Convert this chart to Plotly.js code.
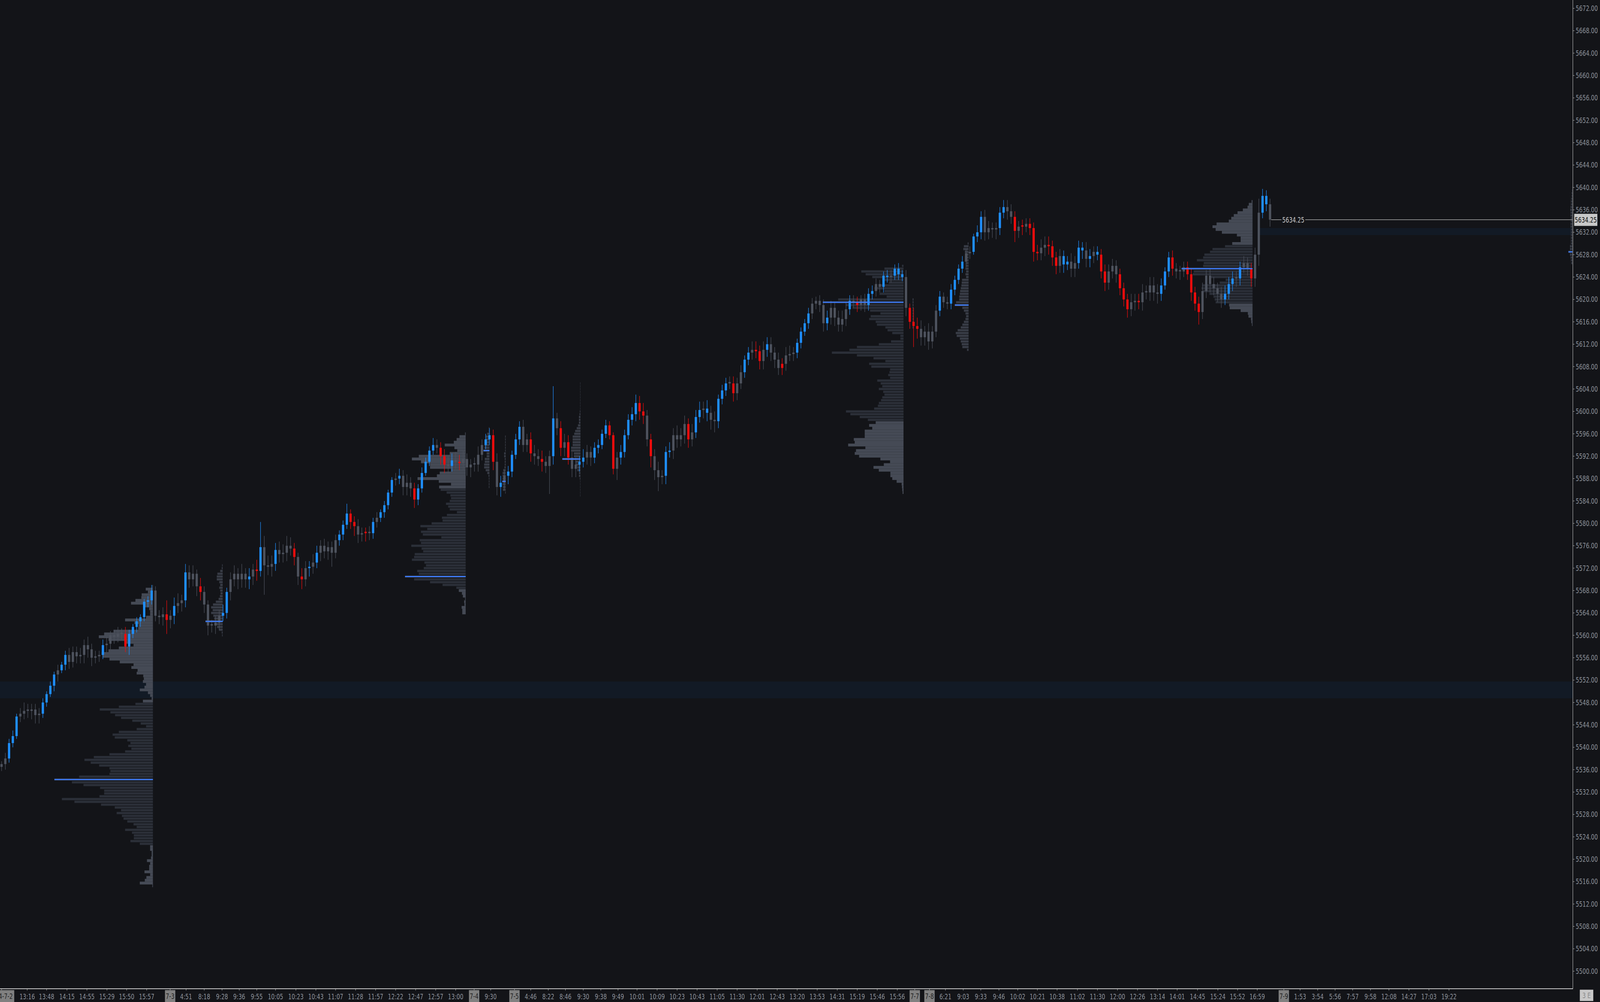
<!DOCTYPE html>
<html>
<head>
<meta charset="utf-8">
<script src="https://cdn.plot.ly/plotly-3.0.1.min.js"></script>
<style>
html,body{margin:0;padding:0;background:#131418;overflow:hidden;width:100%;height:100%;}
#wrap{position:fixed;left:0;top:0;width:100vw;height:100vh;overflow:hidden;background:#131418;}
#chart{position:absolute;left:0;top:0;width:5116px;height:2566px;transform-origin:0 0;}
</style>
</head>
<body>
<div id="wrap"><div id="chart"></div></div>
<script>
// ---------------- DATA ----------------
// Candles: one candle = 3 chart bars
const firstOpen = 5536.5;
const closes = [
5537,5538,5540.75,5542,5545.5,5546,5546.5,5546.5,5546.75,5545.75,
5546,5548,5549.5,5551,5553,5553.75,5554.75,5556.5,5555.25,5557,
5556.25,5556.5,5558.25,5557.5,5556,5556.25,5556.5,5558.25,5558.5,5560,
5559.75,5560.25,5560.25,5558,5560.25,5561.5,5562.5,5563.25,5566,5566.25,
5568,5563.5,5563.25,5563.75,5562.75,5563.5,5565.25,5565.75,5566.25,5571.25,
5570,5571,5568.75,5567.75,5565.5,5561.75,5561.75,5562.25,5563.5,5564,
5567.75,5570,5571,5570,5571,5570,5570.5,5571.75,5571.5,5575.75,
5572.5,5572.25,5572.75,5575.25,5574.5,5574.75,5576,5575.5,5574,5570.5,
5570,5572,5572.25,5573,5574.75,5576,5575,5575.75,5574.75,5577,
5578,5579.75,5581.75,5580.25,5579.5,5578,5578.25,5578.25,5578.25,5580.25,
5581,5582,5583.25,5585.5,5587.75,5588,5588.5,5586.5,5587.25,5586.25,
5584.25,5586.25,5589,5591,5593,5594,5593.5,5592,5590.5,5590.25,
5591.25,5591,5590.75,5591.5,5590,5590.5,5590.5,5592.25,5594,5595,
5595.75,5591,5586.5,5587.25,5588.5,5589.25,5592.25,5595,5597.25,5594,
5595,5592.5,5592,5591.5,5591,5590.25,5592,5598.75,5597,5593.5,
5594.5,5591.75,5589.75,5590.5,5591,5591.75,5592.75,5591.75,5593.5,5594,
5596,5597.5,5595.75,5589.75,5591.75,5592.75,5595.75,5598.5,5599.5,5601.5,
5600,5599.25,5595,5592,5589.5,5588.25,5588.5,5592.75,5593,5595.75,
5595,5595.75,5597.75,5595,5596.25,5599,5600.25,5600.5,5599.75,5598.5,
5598.25,5602.25,5603.75,5605,5605,5603.25,5605,5607,5609.25,5610.5,
5611,5610.75,5609,5611,5612,5610.5,5609.25,5607.75,5608.5,5610,
5610.25,5610.5,5612.25,5614.25,5615.75,5617.5,5619.25,5619.75,5619,5615.75,
5616.75,5618.5,5616.75,5615.5,5616.5,5618.25,5619.75,5619.5,5619,5620,
5619,5621,5621.5,5622.75,5622.25,5624.25,5624,5624.25,5625.5,5624.5,
5624,5618.5,5616,5615.25,5614.75,5613.25,5614.25,5612.5,5614.25,5618,
5620.5,5619.5,5619.25,5621.75,5623.5,5625.5,5626.75,5628.25,5628.5,5631.25,
5632,5634.75,5632,5632.75,5632.5,5632.75,5635.5,5636.5,5635.75,5634.75,
5632.25,5633,5633,5633.5,5632.75,5628.5,5628.25,5629.25,5629.75,5629.5,
5627.5,5626,5627.75,5626.25,5626.75,5625.5,5626.5,5629.25,5628.75,5627.25,
5627.75,5628.5,5628,5625,5623,5625,5626,5624.5,5622,5620,
5618.25,5619.5,5619.75,5619.5,5621.25,5621.25,5622.5,5621.25,5621,5622.5,
5625,5627.5,5625.5,5625,5625,5625.75,5624.5,5621.25,5619.25,5617.75,
5621.5,5624.25,5622.75,5622,5621,5620,5621,5622.75,5623.75,5623.75,
5625.75,5626.5,5625.5,5623.75,5628,5635.5,5638.5,5637,5634.25
];
const wickUp = [
0.5,1,0.75,1,0.5,1,1.5,1.25,1,1,
1,0.75,0.5,0.75,0.5,1,0.5,0.75,1.25,1,
1,1.25,1,1.5,1,1,0.75,1,1.25,0.75,
1,1.25,1,1.25,0.75,0.5,0.75,0.5,0.5,0.75,
1,0.75,1,1.25,2.5,1,1.5,1.75,1,1.5,
1.25,1.5,0.75,1.5,1,0.75,1,1.25,1,1.5,
0.75,1.25,1.5,1,1.75,1,1.5,1,1.75,4.5,
2,1.75,1.5,1.25,1.5,1.5,1.75,1.5,1,0.75,
1.5,1.25,1,1.5,1.25,1,1.25,1,1,1,
0.75,0.75,1.75,0.75,1,1.25,1,1,1.25,0.75,
1,0.5,0.75,0.5,0.5,1,1.25,1,1.5,1,
1,0.75,1,0.75,0.75,1.25,1,1,1.25,1.5,
1.25,1.5,1.25,1.5,1,1,1.25,1.5,1,1,
1.25,1,1.5,1.25,1,1,0.75,1,1,1.25,
1,1.25,1.5,1.25,1.5,1,1,5.75,1,1.25,
1.5,1.25,1,1.25,1,1.5,1.25,1,1,1,
0.75,1,0.75,0.5,1,1.25,1,1,1.25,1.5,
1.25,1.5,1,1,1.25,1.5,1,1,1.5,1.25,
1.75,1.25,1.5,1,1.5,1.25,1.5,1.25,1.5,1.25,
1.5,0.75,1,1,1.25,1.25,1,1.25,0.75,1,
1.5,1.5,1,1.5,1.25,1.25,1,1.25,1,1.5,
1.5,1,0.75,0.75,0.75,1,1,0.75,1,1,
1.25,1.25,1,1.25,1.5,1.25,1,1,1,0.75,
1,1,1,1,0.75,0.75,1,1,0.75,1,
0.75,1.25,0.75,2.5,1.5,1.5,1,1.5,1,1,
1,0.75,1,1,0.75,0.75,1,0.75,1,0.5,
1.25,1,1.25,1.25,1,1,1,1.25,1.25,1.25,
1,1,1.25,1,1,1,1.25,1.5,1.5,1.5,
1,1,1.25,1,1,1.5,1.25,1.25,1,1.5,
1.25,1,1,1,1.25,1.25,1.25,1,1,1,
1,1.5,1.25,1.25,1.5,1.25,1.5,1.5,1.5,1.25,
0.75,1,1.25,1,1,1,1,1,1,1.25,
1.5,1,1.25,1.25,1,1.25,1.5,1.25,1.25,1.25,
1,1.25,1,1,1.25,2.5,1.25,1,1
];
const wickDn = [
0.75,1,0.75,0.75,0.5,1,1,1.25,1.5,1.5,
1.5,0.75,0.75,0.5,1,1.25,0.5,1,1.25,1,
1.25,1.25,1.5,1.5,1.5,1,1,0.75,1.25,1,
1.25,1,1,1,1.5,0.75,1,1,0.75,1,
0.75,1,1.25,1.5,2.5,1.5,1.5,1.25,1.5,1.25,
1.5,1.25,1.75,1.5,1.5,1.75,1.25,1.5,1.25,1,
1,1.5,1.25,1.75,1.5,1.5,1.75,1.5,1.75,1,
5.25,1.5,1.75,1.25,1.5,1.5,1.5,1.25,1.5,1.5,
1.75,1.25,1.5,1.25,1,1.5,1.25,1.5,2.5,1,
1,1,0.75,1.25,1.75,1.5,1.25,1.5,1.25,1,
1,0.75,1,0.75,0.75,1,1,1.5,1.5,1.5,
1.5,1,0.75,0.5,0.75,0.75,1,1.5,1.5,1.25,
1,1.25,1.25,1.25,1.5,1.75,1.25,1.25,1,0.75,
1,1.5,1.5,1.75,1.25,1.5,1,0.75,1,1.25,
1.25,1.5,1.5,1.25,1.75,1.25,5,1.5,1.25,1.5,
1.5,1.25,1.5,1.5,1.25,1,1.25,1.5,1,1,
0.75,0.75,0.75,1,2,1.25,1,0.75,1,1.25,
1.5,1.5,1.25,2,1.75,2.5,1.25,1.5,1,1.5,
1.5,1.25,1.5,1.5,1.25,1,1,1.5,1.5,1.75,
2,1.25,1,1,1,1.5,1.25,1,1,1,
1.25,1.25,1.5,1.5,1.25,1.5,1.5,1.25,1.25,1.25,
1,1.25,1,1,0.75,1,1,1,1.25,1.5,
1.25,1.25,1.5,1.25,1.25,1.25,1,1,1.25,1,
1.25,1,1,1,1,1,1,1,0.75,1,
0.75,1.5,1.25,3.75,1.75,1.5,1.5,1.5,1.25,1,
1,1,1,1,1,0.75,0.75,1,1,0.5,
1,1.25,1.5,1.25,1.5,1.75,1.25,1,1.5,1.25,
2,1.25,1.5,1,1.25,1.75,1.25,1.25,1.5,1.5,
1.5,1.5,1.25,1.5,1,1.5,1.5,1,1.5,1.5,
1.5,1.25,1,1.25,1.5,1.25,1.25,1.5,1.25,1.25,
1.5,1.25,1.5,1.25,1.5,1.25,1.5,1.5,1.75,1.25,
0.75,1,1.25,1.25,1.5,1,1,1.5,1.25,2.25,
1.25,1.25,1.5,1.25,1.5,1.5,1,1,1.25,1.5,
1.25,1,1.25,1.5,1.5,2,1,1.25,1.25
];
// b = blue (trend up), r = red (trend down), g = neutral
const candleClass = (
"ggbbbggggg gbbbbgbbgg gggggggbgg gggrbbbbbb bgggrgbggb gggrgggggb bgggggbgrb gggbggggrg rgbgbggggg bbbrrggrgb " +
"gbbbbgbggg rbbbbbgrrg bgrggggggb brgbgbbbbg grggrggbgr grggbbggbb bbrrgbbbbb rrgrgggbbg gggrgbbgbg gbbbgrggbb " +
"grrgbgggrg ggbbbbgggg bgggggbgrg gbbggbbgbb bgrrrggggg bggbbbbggb bbggggbbgg rgrgrrrggr rrgbbggbbg bgbrrgggrr " +
"rggrgggggb bbrgggrrrr ggggggbbbg bggrggbbg").replace(/ /g, "");

// X-axis time labels (position in candle index units)
const tickPos = [6.83,12.0,17.42,22.75,28.08,33.33,38.67,
  49.17,54.0,58.75,63.33,68.0,73.0,78.42,83.75,89.0,94.33,99.67,105.0,110.33,115.67,121.0,
  130.33,
  141.0,145.67,150.25,155.0,159.67,164.25,169.33,174.67,180.0,185.33,190.67,196.0,201.33,206.67,212.0,217.33,222.67,228.0,233.33,238.67,
  251.5,256.25,260.92,265.75,270.75,276.0,281.25,286.67,292.0,297.33,302.67,308.0,313.25,318.67,324.08,329.33,334.58,
  346.0,350.67,355.33,360.0,364.75,369.67,375.0,380.33,385.67];
const tickLabels = ['13:16','13:48','14:15','14:55','15:29','15:50','15:57',
  '4:51','8:18','9:28','9:36','9:55','10:05','10:23','10:43','11:07','11:28','11:57','12:22','12:47','12:57','13:00',
  '9:30',
  '4:46','8:22','8:46','9:30','9:38','9:49','10:01','10:09','10:23','10:43','11:05','11:30','12:01','12:43','13:20','13:53','14:31','15:19','15:46','15:56',
  '6:21','9:03','9:33','9:46','10:02','10:21','10:38','11:02','11:30','12:00','12:26','13:14','14:01','14:45','15:24','15:52','16:59',
  '1:53','3:54','5:56','7:57','9:58','12:08','14:27','17:03','19:22'];
const datePos = [0, 44.92, 125.92, 136.67, 243.33, 247.25, 341.67];
const dateLabels = ['24-7-2', '7-3', '7-4', '7-5', '7-7', '7-8', '7-9'];

// Volume profiles: rows every 0.5 pt from the top price downward
const p1Vols = [2,23,16,36,37,56,70,26,12,9,9,22,89,59,46,47,126,156,173,142,89,62,109,142,164,161,139,106,62,69,49,52,31,29,32,22,27,42,16,9,4,32,
  56,109,170,136,121,102,66,39,22,52,109,129,122,82,72,79,69,89,139,189,219,199,172,139,136,139,236,315,259,222,169,156,156,171,291,251,166,122,102,116,99,94,82,62,52,89,67,61,61,72,42,
  9,9,4,4,6,19,9,12,12,27,9,21,26,42,2];
const paVols = [2,3,8,17,19,19,11,8,11,8,7,9,13,22,31,37,32,37,30,27,55,23,18,12,3,2];
const p2Vols = [2,20,29,38,67,36,27,51,150,172,143,114,114,47,83,92,154,86,47,85,
  80,61,49,47,51,63,56,51,28,60,76,74,109,145,123,143,137,78,147,143,174,141,136,163,165,172,132,127,134,155,150,194,165,114,74,30,
  22,12,9,2,5,4,13,11,11];
const pbVols = [2,2,7,11,11,16,16,16,19,9,9,15,15,17,17,12,7,3,2,2,2,2];
const pcVols = [2,2,2,2,2,2,5,5,3,3,3,4,8,10,10,10,11,10,9,9,2];
const pdVols = [1,1,1,1,1,1,1,1,1,1,2,3,5,5,5,8,12,17,20,25,25,25,25,30,30,21,21,58,16,16,10,10,5,5,2,1,1,1,1,1,1];
const p5Vols = [5,61,135,121,100,68,47,79,93,61,77,54,209,258,184,163,107,74,105,110,89,85,58,51,36,10,10,40,79,149,173,229,149,96,58,110,103,43,45,49,43,84,73,68,79,65,61,68,72,79,82,94,184,170,140,114,
  89,110,100,124,124,124,159,156,177,122,152,156,142,74,43,63,96,79,42,42,36,22,6,5,4,3];
const ptVols = [3,3,3,3,3,3,3,3,3,3,3];
const peVols = [3,15,17,12,8,6,7,8,8,10,8,10,8,21,22,23,25,27,28,30,30,40,44,20,15,10,8,10,15,20,25,35,41,38,28,25,22,20,5];
const p6Vols = [3,12,16,31,48,60,68,76,115,128,118,98,50,38,38,65,
  88,128,136,154,158,178,156,158,227,188,191,138,86,105,161,163,158,138,125,121,118,
  75,73,38,15,13,5,4,2];
const pfVols = [1,2,3,3,4,5,5,6,7,6,6,5,5,6,6,5,5,5,5,5,5,8,8,13,8,6,5,4];

const profileVolumes = [p1Vols, paVols, p2Vols, pbVols, pcVols, pdVols, p5Vols, ptVols, peVols, p6Vols, pfVols];
const profileEnds    = [40.33, 58.92, 123.67, 130.0, 134.33, 154.25, 240.33, 243.0, 257.67, 333.33, 418.58];
const profileTops    = [5568.75, 5572.5, 5596, 5597, 5595.5, 5605, 5626, 5620, 5630, 5637.5, 5640];
const profileVAHigh  = [5548, null, 5586.25, null, null, null, 5626.25, null, null, 5629.75, null];
const profileVALow   = [5522.5, null, 5568.25, null, null, null, 5598.25, null, null, 5619.25, null];
const profilePOC     = [5534.25, 5562.5, 5570.5, 5593, 5587.5, 5591.5, 5619.5, null, 5619, 5625.5, 5628.5];

// Highlighted price zones
const zoneLow   = [5548.75, 5631.5];
const zoneHigh  = [5551.75, 5632.75];
const zoneStart = [null, 334.7];

// ---------------- BUILD ----------------
const W = 5116, H = 2566;
const FONT = 'DejaVu Sans Condensed, DejaVu Sans, sans-serif';
const BG = '#131418';
const xRange = [-0.417, 418.58];
const yRange = [5496.94, 5673.49];
const N = closes.length;
const idx = closes.map((_, i) => i);
const opens = [firstOpen].concat(closes.slice(0, N - 1));
const colorMap = { b: '#1f8fff', r: '#f20c0c', g: '#4e535e' };
const cols = idx.map(i => colorMap[candleClass[i]] || colorMap.g);
const hi = idx.map(i => Math.max(opens[i], closes[i]) + wickUp[i]);
const lo = idx.map(i => Math.min(opens[i], closes[i]) - wickDn[i]);
const bodyLo = idx.map(i => Math.min(opens[i], closes[i]));
const bodyH = idx.map(i => Math.max(Math.abs(closes[i] - opens[i]), 0.25));

const rowStep = 0.5;
const volToX = 1 / 12;
const light = { y: [], x: [], base: [] };
const va = { y: [], x: [], base: [] };
const sm = { y: [], x: [], base: [] };
const pocX = [], pocY = [];
profileVolumes.forEach((vols, p) => {
  const top = profileTops[p], end = profileEnds[p];
  const small = profileVAHigh[p] === null;
  vols.forEach((v, j) => {
    const price = top - j * rowStep;
    let tgt = sm;
    if (!small) tgt = (price < profileVAHigh[p] && price > profileVALow[p]) ? va : light;
    tgt.y.push(price); tgt.x.push(-v * volToX); tgt.base.push(end);
  });
  if (profilePOC[p] !== null) {
    const j = Math.round((top - profilePOC[p]) / rowStep);
    const len = vols[j] * volToX;
    pocX.push(end - len, end, null); pocY.push(profilePOC[p], profilePOC[p], null);
  }
});

const traces = [
  { type: 'bar', orientation: 'h', y: light.y, x: light.x, base: light.base, width: 0.5,
    marker: { color: '#454a55', line: { width: 0 } }, hoverinfo: 'skip' },
  { type: 'bar', orientation: 'h', y: va.y, x: va.x, base: va.base, width: 0.4,
    marker: { color: '#2b2f38', line: { width: 0 } }, hoverinfo: 'skip' },
  { type: 'bar', orientation: 'h', y: sm.y, x: sm.x, base: sm.base, width: 0.4,
    marker: { color: '#383c46', line: { width: 0 } }, hoverinfo: 'skip' },
  { type: 'bar', x: idx, base: lo, y: idx.map(i => hi[i] - lo[i]), width: 0.13,
    marker: { color: cols, line: { width: 0 } }, hoverinfo: 'skip' },
  { type: 'bar', x: idx, base: bodyLo, y: bodyH, width: 0.6,
    marker: { color: cols, line: { width: 0 } }, hoverinfo: 'skip' },
  { type: 'scatter', mode: 'lines', x: pocX, y: pocY, line: { color: '#3d7dff', width: 3 }, hoverinfo: 'skip' },
  { type: 'scatter', mode: 'lines', x: [N - 1 + 0.3, xRange[1]], y: [closes[N - 1], closes[N - 1]],
    line: { color: '#c4c4c4', width: 1.3 }, hoverinfo: 'skip' }
];

const shapes = zoneLow.map((l, i) => ({
  type: 'rect', layer: 'below', line: { width: 0 }, fillcolor: '#121a25',
  xref: zoneStart[i] === null ? 'paper' : 'x',
  x0: zoneStart[i] === null ? 0 : zoneStart[i], x1: zoneStart[i] === null ? 1 : xRange[1],
  yref: 'y', y0: l, y1: zoneHigh[i]
}));

const annotations = [];
dateLabels.forEach((t, i) => {
  const first = i === 0;
  annotations.push({
    xref: 'x', yref: 'paper', x: first ? 3.42 : datePos[i], y: 0, yanchor: 'top', yshift: -4,
    xanchor: first ? 'right' : 'center', text: t, showarrow: false,
    bgcolor: '#808080', width: first ? 64 : 32, height: 30, borderpad: 0,
    font: { family: FONT, size: 19, color: '#232323' }
  });
});
annotations.push({
  xref: 'x', yref: 'y', x: 344.2, y: closes[N - 1], text: closes[N - 1].toFixed(2), showarrow: false,
  bgcolor: BG, borderpad: 2, font: { family: FONT, size: 19, color: '#c8c8c8' }
});
annotations.push({
  xref: 'paper', yref: 'y', x: 1, xanchor: 'left', xshift: 5, y: closes[N - 1], text: closes[N - 1].toFixed(2),
  showarrow: false, bgcolor: '#c8c8c8', width: 73, height: 30, borderpad: 0,
  font: { family: FONT, size: 19, color: '#111111' }
});
annotations.push({
  xref: 'paper', yref: 'paper', x: 1.0133, y: 0, yanchor: 'top', yshift: -3, text: '3 E', showarrow: false,
  bgcolor: '#c8c8c8', width: 42, height: 28, borderpad: 0, font: { family: FONT, size: 19, color: '#8a8a8a' }
});

const layout = {
  width: W, height: H,
  margin: { l: 0, r: 88, t: 0, b: 35, pad: 0 },
  paper_bgcolor: BG, plot_bgcolor: BG,
  showlegend: false, barmode: 'overlay', hovermode: false,
  font: { family: FONT, size: 19, color: '#8b9098' },
  xaxis: {
    range: xRange, showgrid: false, zeroline: false, showline: true, linecolor: '#c9c9c9', linewidth: 1.5,
    ticks: 'outside', ticklen: 4, tickcolor: '#c9c9c9', tickwidth: 1,
    tickmode: 'array', tickvals: tickPos.concat(datePos), ticktext: tickLabels.concat(dateLabels.map(() => '')),
    tickangle: 0, tickfont: { family: FONT, size: 19, color: '#8b9098' }, automargin: false, fixedrange: true
  },
  yaxis: {
    range: yRange, side: 'right', showgrid: false, zeroline: false, showline: true, mirror: true,
    linecolor: '#c9c9c9', linewidth: 1.5, ticks: 'outside', ticklen: 5, tickcolor: '#c9c9c9',
    tick0: 5500, dtick: 4, tickformat: '.2f', tickfont: { family: FONT, size: 19, color: '#8b9098' },
    automargin: false, fixedrange: true
  },
  shapes: shapes,
  annotations: annotations
};

// Fit the 5116x2566 design into whatever viewport the page is given
function fit() {
  const vw = window.innerWidth || document.documentElement.clientWidth || W;
  const vh = window.innerHeight || document.documentElement.clientHeight || H;
  document.getElementById('chart').style.transform = 'scale(' + (vw / W) + ',' + (vh / H) + ')';
}
fit();
window.addEventListener('resize', fit);

Plotly.newPlot('chart', traces, layout, { staticPlot: true, displayModeBar: false });
</script>
</body>
</html>
